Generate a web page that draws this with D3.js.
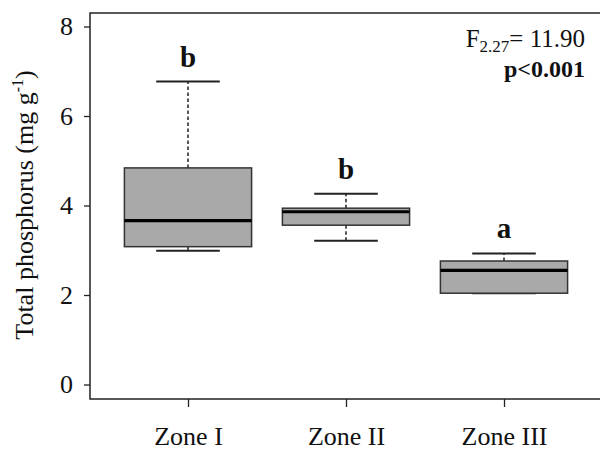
<!DOCTYPE html>
<html>
<head>
<meta charset="utf-8">
<script src="https://cdn.jsdelivr.net/npm/d3@7"></script>
<style>
  html, body { margin: 0; padding: 0; background: #fff; }
  svg { display: block; }
  text { font-family: "Liberation Serif", "Times New Roman", serif; fill: #111; }
</style>
</head>
<body>
<svg id="chart" width="600" height="450"></svg>
<script>
// ---- data ----
const categories = ["Zone I", "Zone II", "Zone III"];
const whiskerLow  = [2.99, 3.21, 2.04];
const q1          = [3.08, 3.56, 2.04];
const medians     = [3.66, 3.86, 2.55];
const q3          = [4.84, 3.94, 2.76];
const whiskerHigh = [6.77, 4.26, 2.93];
const groupLetters = ["b", "b", "a"];
const yTicks = [0, 2, 4, 6, 8];
const yLabel = "Total phosphorus (mg g";
const statF = "F";
const statFsub = "2.27";
const statFval = "= 11.90";
const statP = "p<0.001";

// ---- layout ----
const svg = d3.select("#chart");
const frame = { left: 90, top: 13, right: 602, bottom: 399 };
const serif = "'Liberation Serif', 'Times New Roman', serif";

const y = d3.scaleLinear().domain([0, 8]).range([384.5, 26.5]);
const x = d3.scalePoint().domain(categories).range([188, 504]);
const step = x.step();
const boxW = step * 0.805;
const capW = boxW / 2;

// frame
svg.append("rect")
  .attr("x", frame.left).attr("y", frame.top)
  .attr("width", frame.right - frame.left).attr("height", frame.bottom - frame.top)
  .attr("fill", "none").attr("stroke", "#222").attr("stroke-width", 1.5);

// y axis
const yAxis = d3.axisLeft(y).tickValues(yTicks).tickSize(6).tickPadding(11).tickFormat(d3.format("d"));
const gy = svg.append("g").attr("transform", `translate(${frame.left},0)`).call(yAxis)
  .attr("font-family", serif);
gy.select(".domain").remove();
gy.selectAll(".tick line").attr("stroke", "#222").attr("stroke-width", 1.3);
gy.selectAll(".tick text").style("font-size", "26px").attr("fill", "#111").style("font-family", serif);

// x axis
const xAxis = d3.axisBottom(x).tickSize(8).tickPadding(20);
const gx = svg.append("g").attr("transform", `translate(0,${frame.bottom})`).call(xAxis)
  .attr("font-family", serif);
gx.select(".domain").remove();
gx.selectAll(".tick line").attr("stroke", "#222").attr("stroke-width", 1.3);
gx.selectAll(".tick text").style("font-size", "26px").attr("fill", "#111").style("font-family", serif);

// y title
const yt = svg.append("text")
  .attr("transform", `translate(33,205) rotate(-90)`)
  .attr("text-anchor", "middle")
  .style("font-size", "26px");
yt.append("tspan").text(yLabel);
yt.append("tspan").attr("dy", -10).style("font-size", "16px").text("-1");
yt.append("tspan").attr("dy", 10).text(")");

// boxes
const data = categories.map((c, i) => ({
  c, lo: whiskerLow[i], q1: q1[i], med: medians[i], q3: q3[i], hi: whiskerHigh[i], letter: groupLetters[i]
}));

const g = svg.append("g");
const boxes = g.selectAll("g.box").data(data).join("g").attr("class", "box");

// whiskers (dashed)
boxes.append("line")
  .attr("x1", d => x(d.c)).attr("x2", d => x(d.c))
  .attr("y1", d => y(d.q3)).attr("y2", d => y(d.hi))
  .attr("stroke", "#222").attr("stroke-width", 1.5).attr("stroke-dasharray", "3.5,2.5");
boxes.append("line")
  .attr("x1", d => x(d.c)).attr("x2", d => x(d.c))
  .attr("y1", d => y(d.q1)).attr("y2", d => y(d.lo))
  .attr("stroke", "#222").attr("stroke-width", 1.5).attr("stroke-dasharray", "3.5,2.5");
// caps
boxes.append("line")
  .attr("x1", d => x(d.c) - capW / 2).attr("x2", d => x(d.c) + capW / 2)
  .attr("y1", d => y(d.hi)).attr("y2", d => y(d.hi))
  .attr("stroke", "#222").attr("stroke-width", 2);
boxes.append("line")
  .attr("x1", d => x(d.c) - capW / 2).attr("x2", d => x(d.c) + capW / 2)
  .attr("y1", d => y(d.lo)).attr("y2", d => y(d.lo))
  .attr("stroke", "#222").attr("stroke-width", 2);
// box
boxes.append("rect")
  .attr("x", d => x(d.c) - boxW / 2).attr("width", boxW)
  .attr("y", d => y(d.q3)).attr("height", d => y(d.q1) - y(d.q3))
  .attr("fill", "#a9a9a9").attr("stroke", "#333").attr("stroke-width", 1.5);
// median
boxes.append("line")
  .attr("x1", d => x(d.c) - boxW / 2).attr("x2", d => x(d.c) + boxW / 2)
  .attr("y1", d => y(d.med)).attr("y2", d => y(d.med))
  .attr("stroke", "#000").attr("stroke-width", 3.2);
// letters
boxes.append("text")
  .attr("x", d => x(d.c)).attr("y", d => y(d.hi) - 15)
  .attr("text-anchor", "middle")
  .style("font-size", "29px").style("font-weight", "bold")
  .text(d => d.letter);

// stats annotation
const fT = svg.append("text").attr("x", 585).attr("y", 47).attr("text-anchor", "end").style("font-size", "25px");
fT.append("tspan").text(statF);
fT.append("tspan").attr("dy", 5).style("font-size", "17px").text(statFsub);
fT.append("tspan").attr("dy", -5).text(statFval);
svg.append("text").attr("x", 585).attr("y", 77).attr("text-anchor", "end")
  .style("font-size", "24px").style("font-weight", "bold").text(statP);
</script>
</body>
</html>
